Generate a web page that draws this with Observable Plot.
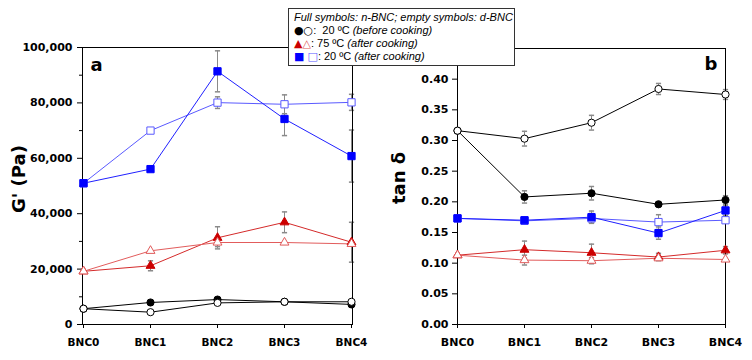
<!DOCTYPE html>
<html>
<head>
<meta charset="utf-8">
<script src="https://cdn.jsdelivr.net/npm/d3@7"></script>
<script src="https://cdn.jsdelivr.net/npm/@observablehq/plot@0.6"></script>
<style>
  body { margin: 0; background: #fff; }
  #chart { position: relative; width: 752px; height: 360px; overflow: hidden; font-family: "DejaVu Sans", sans-serif; }
  .panel { position: absolute; top: 0; }
  .ytitle { position: absolute; font-weight: bold; font-size: 18px; white-space: nowrap; color: #000;
            transform: translate(-50%, -50%) rotate(-90deg); line-height: 1; }
  #legend { position: absolute; left: 288px; top: 8px; width: 227px; height: 58px; border: 1px solid #333;
            background: #fff; box-sizing: border-box; padding: 2px 0 0 5px;
            font-family: "Liberation Sans", Arial, sans-serif; font-size: 11px; line-height: 13px; color: #000; white-space: nowrap; }
  #legend i { font-style: italic; }
  .sym { font-family: "DejaVu Sans", sans-serif; font-size: 11px; }
</style>
</head>
<body>
<div id="chart">
  <div class="panel" id="panelA" style="left:0px"></div>
  <div class="panel" id="panelB" style="left:376px"></div>
  <div class="ytitle" style="left:19px; top:179px">G' (Pa)</div>
  <div class="ytitle" style="left:399px; top:178px">tan δ</div>
  <div id="legend">
    <div><i>Full symbols: n-BNC; empty symbols: d-BNC</i></div>
    <div><span class="sym" style="color:#000">●○</span>:&nbsp; 20 ºC <i>(before cooking)</i></div>
    <div><span class="sym" style="color:#cc0000">▲</span><span class="sym" style="color:#e05a5a">△</span>: 75 ºC <i>(after cooking)</i></div>
    <div><span class="sym" style="color:#0000ff">■</span> <span class="sym" style="color:#5a5aff">□</span>: 20 ºC <i>(after cooking)</i></div>
  </div>
</div>
<script>
// Samples along the x axis
const categories = ["BNC0", "BNC1", "BNC2", "BNC3", "BNC4"];

// Storage modulus G' (Pa)
const gN20before = [5700, 7950, 9000, 8200, 7250];
const gD20before = [5700, 4450, 7800, 8200, 8200];
const gN75after  = [19200, 21200, 31300, 36900, 29700];
const gN75afterErr = [0, 1800, 4000, 3750, 7200];
const gD75after  = [19200, 26600, 29600, 29600, 29100];
const gD75afterErr = [0, 0, 1500, 0, 0];
const gN20after  = [51000, 56100, 91400, 74200, 60800];
const gN20afterErr = [0, 0, 7400, 6000, 9400];
const gD20after  = [51000, 70000, 80100, 79500, 80200];
const gD20afterErr = [0, 0, 2100, 3400, 2900];

// Loss tangent tan δ
const tN20before = [0.316, 0.208, 0.214, 0.196, 0.203];
const tN20beforeErr = [0, 0.010, 0.011, 0.004, 0.007];
const tD20before = [0.316, 0.303, 0.329, 0.384, 0.375];
const tD20beforeErr = [0, 0.012, 0.012, 0.009, 0.008];
const tN75after  = [0.113, 0.122, 0.117, 0.110, 0.121];
const tN75afterErr = [0, 0.014, 0.014, 0.006, 0.006];
const tD75after  = [0.113, 0.105, 0.104, 0.108, 0.106];
const tD75afterErr = [0, 0.008, 0.005, 0, 0];
const tN20after  = [0.173, 0.170, 0.175, 0.149, 0.186];
const tN20afterErr = [0, 0.004, 0.010, 0.010, 0.008];
const tD20after  = [0.173, 0.169, 0.173, 0.167, 0.170];
const tD20afterErr = [0, 0.004, 0.008, 0.012, 0];

// Axis ticks
const gTicks = [0, 20000, 40000, 60000, 80000, 100000];
const gMinorTicks = [10000, 30000, 50000, 70000, 90000];
const tTicks = [0, 0.05, 0.10, 0.15, 0.20, 0.25, 0.30, 0.35, 0.40];

// Series styles: filled markers for n-BNC, empty markers for d-BNC
const styles = {
  blackFilled: {symbol: "circle", r: 3.6, fill: "#000", stroke: "#000", line: "#000"},
  blackEmpty:  {symbol: "circle", r: 3.6, fill: "#fff", stroke: "#000", line: "#000"},
  redFilled:   {symbol: "triangle", r: 3.3, fill: "#cc0000", stroke: "#cc0000", line: "#d42a2a"},
  redEmpty:    {symbol: "triangle", r: 3.3, fill: "#fff", stroke: "#e05a5a", line: "#e25c5c"},
  blueFilled:  {symbol: "square", r: 4.1, fill: "#0000ff", stroke: "#0000ff", line: "#2020ff"},
  blueEmpty:   {symbol: "square", r: 4.1, fill: "#fff", stroke: "#5a5aff", line: "#5a5aff"}
};

// Short horizontal cap for error bars
const capSymbol = {draw(context) { context.moveTo(-2.6, 0); context.lineTo(2.6, 0); }};

const toRows = (values, errors) =>
  categories.map((cat, i) => ({cat, v: values[i], e: errors ? errors[i] : 0}));

function errorMarks(rows) {
  const withErr = rows.filter(d => d.e > 0);
  return [
    Plot.ruleX(withErr, {x: "cat", y1: d => d.v - d.e, y2: d => d.v + d.e, stroke: "#8a8a8a", strokeWidth: 1}),
    Plot.dot(withErr, {x: "cat", y: d => d.v - d.e, symbol: capSymbol, r: 2, stroke: "#8a8a8a", fill: "none"}),
    Plot.dot(withErr, {x: "cat", y: d => d.v + d.e, symbol: capSymbol, r: 2, stroke: "#8a8a8a", fill: "none"})
  ];
}

// Error bars sit under the frame; lines and markers are drawn over it
function seriesMarks(series) {
  const list = series.map(s => ({rows: toRows(s.values, s.errors), style: styles[s.style]}));
  return {
    errors: list.flatMap(s => errorMarks(s.rows)),
    data: [
      ...list.map(s => Plot.line(s.rows, {x: "cat", y: "v", stroke: s.style.line, strokeWidth: 1})),
      ...list.map(s => Plot.dot(s.rows, {x: "cat", y: "v", symbol: s.style.symbol, r: s.style.r,
                                         fill: s.style.fill, stroke: s.style.stroke, strokeWidth: 1}))
    ]
  };
}

const marksA = seriesMarks([
  {values: gN20before, style: "blackFilled"},
  {values: gD20before, style: "blackEmpty"},
  {values: gN75after, errors: gN75afterErr, style: "redFilled"},
  {values: gD75after, errors: gD75afterErr, style: "redEmpty"},
  {values: gD20after, errors: gD20afterErr, style: "blueEmpty"},
  {values: gN20after, errors: gN20afterErr, style: "blueFilled"}
]);

const panelA = Plot.plot({
  width: 376, height: 360,
  marginLeft: 82, marginRight: 24, marginTop: 47, marginBottom: 36,
  style: {fontFamily: "DejaVu Sans", fontWeight: "bold", fontSize: "10.5px", background: "transparent", color: "#000"},
  x: {type: "point", domain: categories, padding: 0},
  y: {domain: [0, 100000]},
  marks: [
    Plot.axisY(gTicks, {tickSize: 5, tickPadding: 5, tickFormat: d3.format(","), label: null, fontSize: 11}),
    Plot.axisY(gMinorTicks, {tickSize: 3, tickFormat: () => "", label: null}),
    Plot.axisX({tickSize: 4, tickPadding: 10, label: null}),
    ...marksA.errors,
    Plot.frame({stroke: "#000"}),
    ...marksA.data,
    Plot.text(["a"], {frameAnchor: "top-left", dx: 8, dy: 11, textAnchor: "start", lineAnchor: "top",
                      fontSize: 18, fontWeight: "bold", fill: "#000"})
  ]
});

const marksB = seriesMarks([
  {values: tN20before, errors: tN20beforeErr, style: "blackFilled"},
  {values: tD20before, errors: tD20beforeErr, style: "blackEmpty"},
  {values: tN75after, errors: tN75afterErr, style: "redFilled"},
  {values: tD75after, errors: tD75afterErr, style: "redEmpty"},
  {values: tD20after, errors: tD20afterErr, style: "blueEmpty"},
  {values: tN20after, errors: tN20afterErr, style: "blueFilled"}
]);

const panelB = Plot.plot({
  width: 376, height: 360,
  marginLeft: 81, marginRight: 27, marginTop: 48, marginBottom: 36,
  style: {fontFamily: "DejaVu Sans", fontWeight: "bold", fontSize: "11px", background: "transparent", color: "#000"},
  x: {type: "point", domain: categories, padding: 0},
  y: {domain: [0, 0.45]},
  marks: [
    Plot.axisY(tTicks, {tickSize: 5, tickPadding: 4, tickFormat: d3.format(".2f"), label: null}),
    Plot.axisX({tickSize: 4, tickPadding: 10, label: null}),
    ...marksB.errors,
    Plot.frame({stroke: "#000"}),
    ...marksB.data,
    Plot.text(["b"], {frameAnchor: "top-right", dx: -8, dy: 9, textAnchor: "end", lineAnchor: "top",
                      fontSize: 18, fontWeight: "bold", fill: "#000"})
  ]
});

document.getElementById("panelA").append(panelA);
document.getElementById("panelB").append(panelB);
</script>
</body>
</html>
